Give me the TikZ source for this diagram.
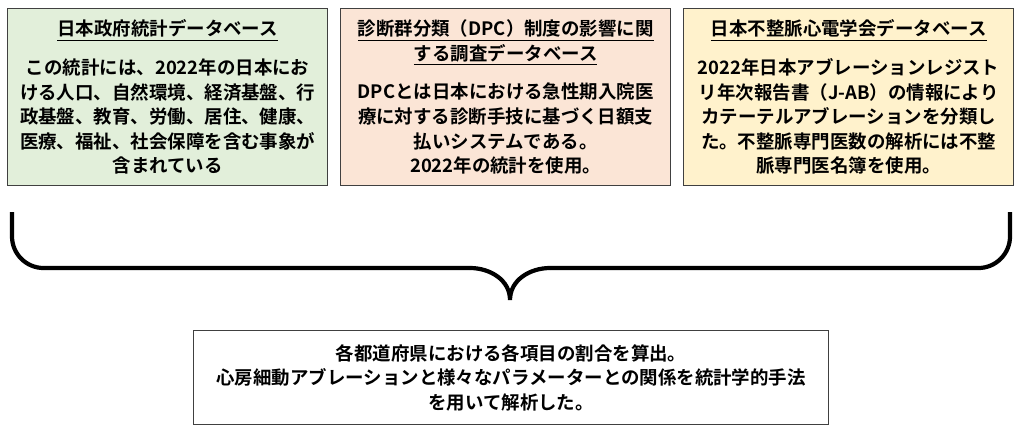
\documentclass[tikz,border=0pt]{standalone}
\usepackage{fontspec}
\setmainfont{Noto Sans CJK JP Bold}
\definecolor{dbgreen}{HTML}{E2EFDA}
\definecolor{dbpink}{HTML}{FBE5D6}
\definecolor{dbyellow}{HTML}{FFF2CC}
\begin{document}
\begin{tikzpicture}[x=0.02cm, y=-0.02cm]

	\tikzstyle{dbbox}=[draw=black!75, line width=0.8pt, minimum width=6.4cm, minimum height=3.54cm, align=center, font=\fontsize{10.5}{14}\selectfont, anchor=north west]
	\tikzstyle{res}=[draw=black!75, line width=0.8pt, minimum width=12.7cm, minimum height=1.88cm, align=center, font=\fontsize{10.5}{14}\selectfont, anchor=north west, fill=white]
	\tikzstyle{brc}=[line width=2.4pt, rounded corners=18pt]

	\useasboundingbox (0,0) rectangle (1023,437);

	\node[dbbox, fill=dbgreen] (db_1) at (7,8) {\underline{日本政府統計データベース}\\[8pt]
		この統計には、2022年の日本にお\\ける人口、自然環境、経済基盤、行\\政基盤、教育、労働、居住、健康、\\医療、福祉、社会保障を含む事象が\\含まれている};
	\node[dbbox, fill=dbpink, minimum width=6.6cm] (db_2) at (340,8) {\underline{診断群分類（DPC）制度の影響に関}\\\underline{する調査データベース}\\[8pt]
		DPCとは日本における急性期入院医\\療に対する診断手技に基づく日額支\\払いシステムである。\\2022年の統計を使用。};
	\node[dbbox, fill=dbyellow, minimum width=6.6cm] (db_3) at (683,8) {\underline{日本不整脈心電学会データベース}\\[8pt]
		2022年日本アブレーションレジスト\\リ年次報告書（J-AB）の情報により\\カテーテルアブレーションを分類し\\た。不整脈専門医数の解析には不整\\脈専門医名簿を使用。};

	\coordinate (b_l) at (12,212);
	\coordinate (b_r) at (1010,212);
	\coordinate (b_tip) at (510,300);
	\draw[brc] (b_l) -- (12,268) -- (470,268);
	\draw[line width=2.4pt] (470,268) to[out=0, in=90] (b_tip) to[out=90, in=180] (550,268);
	\draw[brc] (550,268) -- (1010,268) -- (b_r);

	\node[res] (result) at (193,330) {各都道府県における各項目の割合を算出。\\心房細動アブレーションと様々なパラメーターとの関係を統計学的手法\\を用いて解析した。};
\end{tikzpicture}
\end{document}
